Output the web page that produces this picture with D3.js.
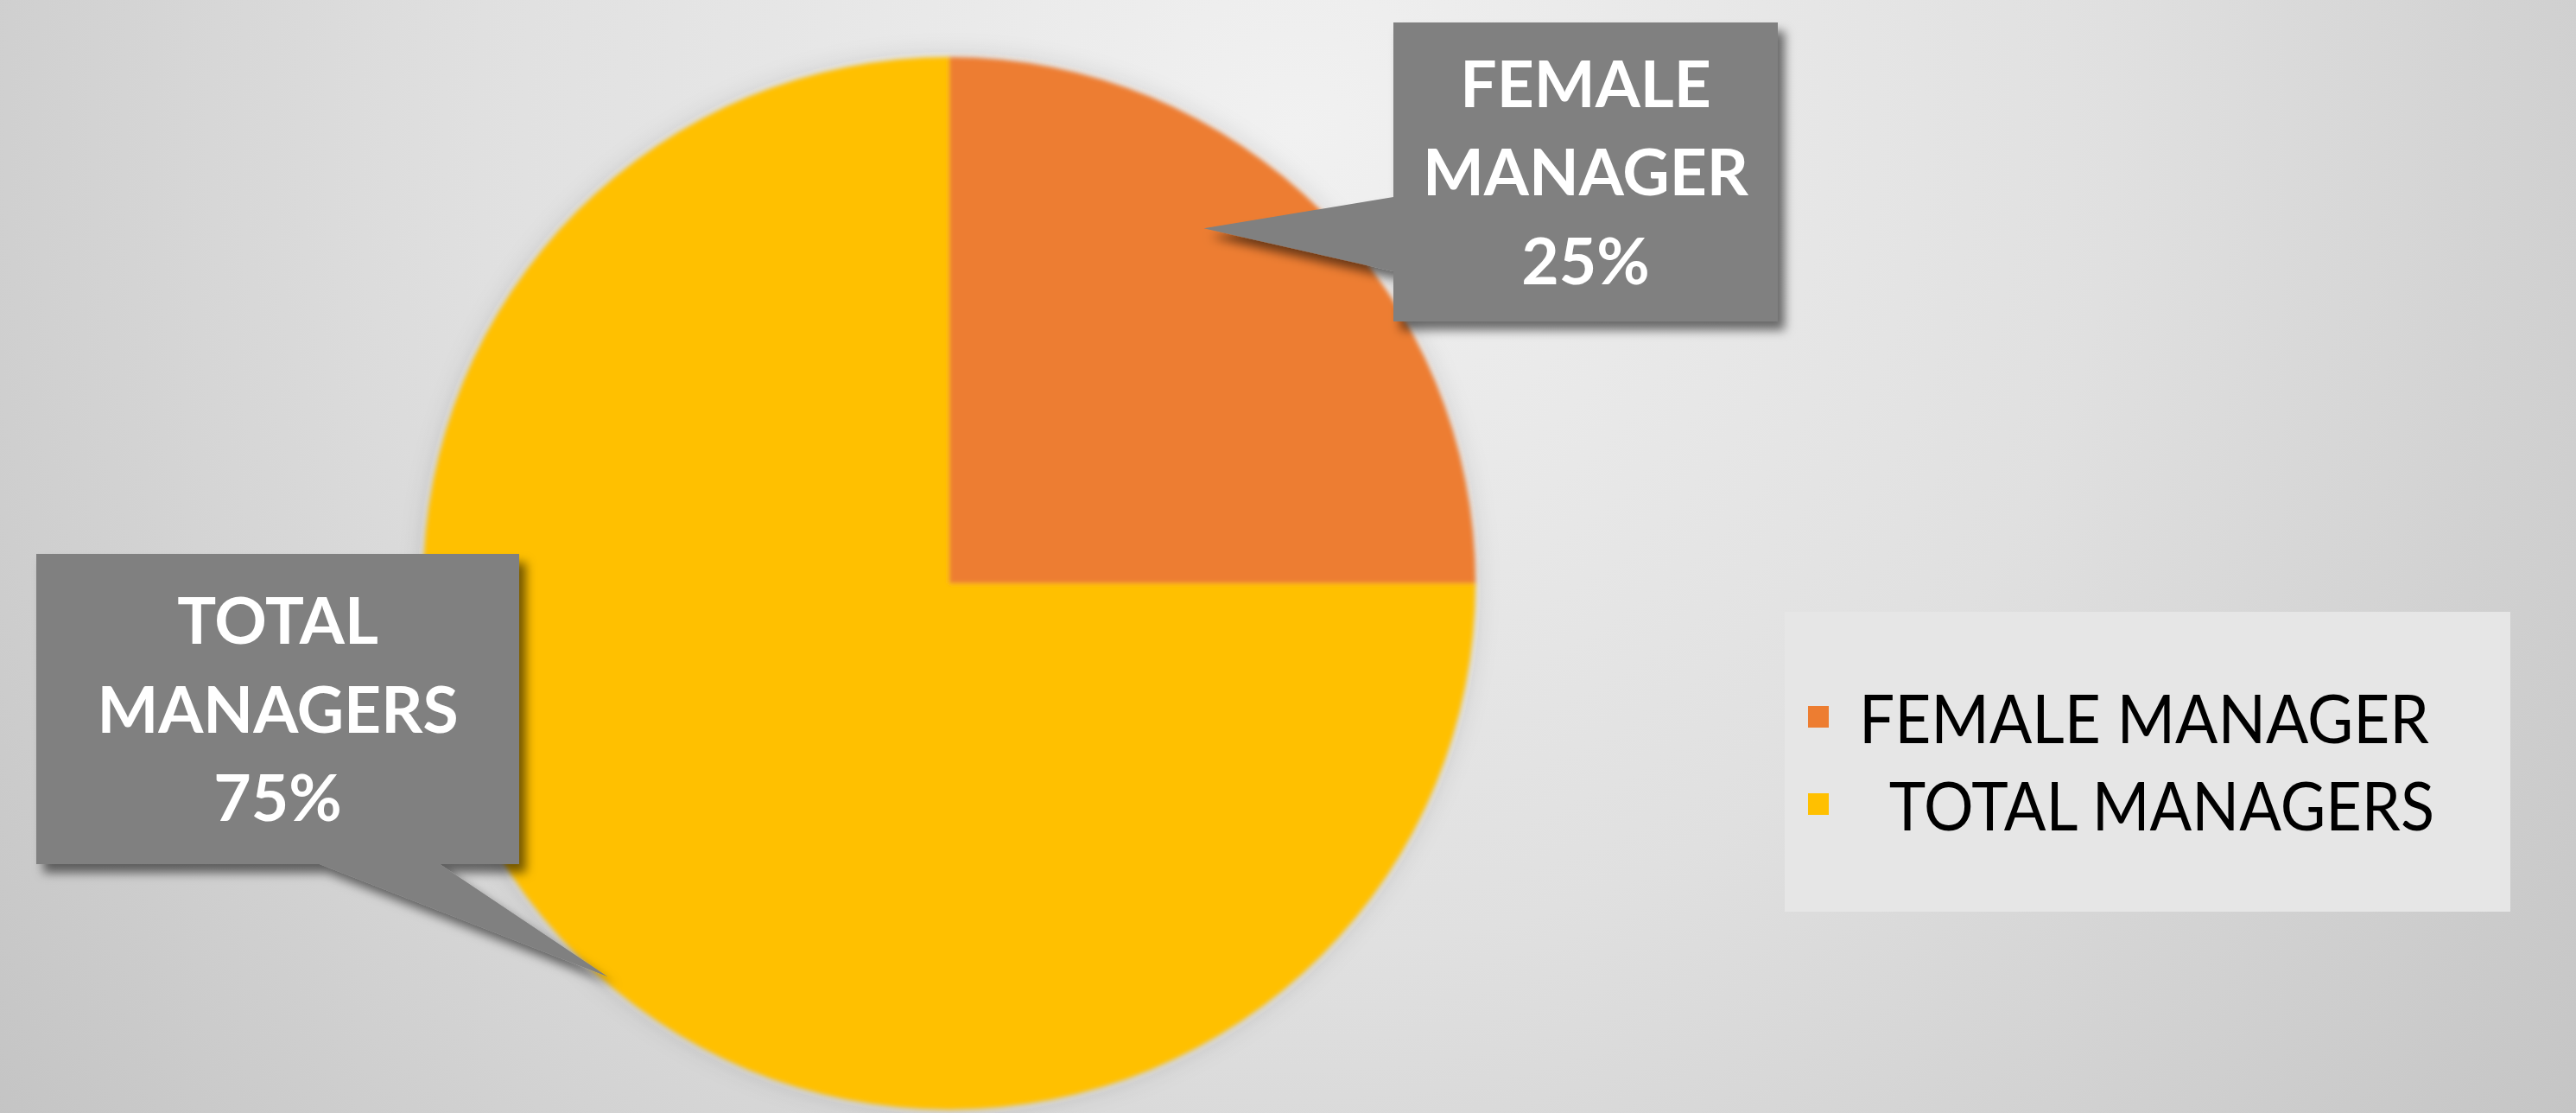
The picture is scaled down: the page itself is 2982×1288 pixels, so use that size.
<!DOCTYPE html>
<html>
<head>
    <meta charset="utf-8">
    <title>Female managers</title>
    <script src="https://d3js.org/d3.v7.min.js"></script>
    <style>
        html, body { margin: 0; padding: 0; overflow: hidden; }
        .callout-text { font-family: Lato, "Open Sans", sans-serif; font-weight: bold; fill: #fff; }
        .legend-text { font-family: Lato, "Open Sans", sans-serif; fill: #000; white-space: pre; }
    </style>
</head>
<body>
    <div id="chart"></div>

    <script>
        // 数据
        const categories = ["FEMALE MANAGER", "TOTAL MANAGERS"];
        const values = [25, 75];
        const colors = ["#ED7D31", "#FFC000"];
        const legendLabels = ["FEMALE MANAGER", "  TOTAL MANAGERS"];

        // 尺寸
        const width = 2982, height = 1288;
        const cx = 1099, cy = 675, radius = 609;

        const svg = d3.select("#chart")
            .append("svg")
            .attr("width", width)
            .attr("height", height);

        const defs = svg.append("defs");

        // 背景渐变
        const bg = defs.append("radialGradient")
            .attr("id", "bg-grad")
            .attr("gradientUnits", "userSpaceOnUse")
            .attr("cx", 1500).attr("cy", 150).attr("r", 1900);
        bg.append("stop").attr("offset", "0%").attr("stop-color", "#f1f1f1");
        bg.append("stop").attr("offset", "50%").attr("stop-color", "#e0e0e0");
        bg.append("stop").attr("offset", "100%").attr("stop-color", "#c4c4c4");

        // 阴影
        const shadow = defs.append("filter").attr("id", "box-shadow")
            .attr("x", "-20%").attr("y", "-20%").attr("width", "140%").attr("height", "140%");
        shadow.append("feDropShadow")
            .attr("dx", 8).attr("dy", 10).attr("stdDeviation", 6)
            .attr("flood-color", "#000").attr("flood-opacity", 0.55);

        const pieGlow = defs.append("filter").attr("id", "pie-glow")
            .attr("x", "-20%").attr("y", "-20%").attr("width", "140%").attr("height", "140%");
        pieGlow.append("feGaussianBlur").attr("in", "SourceGraphic").attr("stdDeviation", 2.5).attr("result", "soft");
        pieGlow.append("feDropShadow").attr("in", "soft")
            .attr("dx", 0).attr("dy", 0).attr("stdDeviation", 14)
            .attr("flood-color", "#000").attr("flood-opacity", 0.15);

        svg.append("rect")
            .attr("width", width)
            .attr("height", height)
            .attr("fill", "url(#bg-grad)");

        // 饼图
        const pie = d3.pie().sort(null).value(d => d.value);
        const arc = d3.arc().innerRadius(0).outerRadius(radius);
        const color = d3.scaleOrdinal().domain(categories).range(colors);

        const data = categories.map((c, i) => ({ name: c, value: values[i] }));
        const arcs = pie(data);
        const total = d3.sum(values);

        svg.append("g")
            .attr("transform", `translate(${cx},${cy})`)
            .attr("filter", "url(#pie-glow)")
            .selectAll("path")
            .data(arcs)
            .enter()
            .append("path")
            .attr("d", arc)
            .attr("fill", d => color(d.data.name));

        // 标注框
        const callouts = [
            { x: 1613, y: 26, w: 445, h: 346, side: "left", b0: 228, b1: 314, tipAngle: 0.622, tipR: 0.83 },
            { x: 42, y: 641, w: 559, h: 359, side: "bottom", b0: 370, b1: 509, tipAngle: 3.856, tipR: 0.99 }
        ];

        const lineGap = 102.5;
        const calloutG = svg.append("g");

        callouts.forEach((c, i) => {
            const tip = d3.pointRadial(c.tipAngle, radius * c.tipR);
            const tx = cx + tip[0], ty = cy + tip[1];
            const p = d3.path();
            const x1 = c.x + c.w, y1 = c.y + c.h;
            if (c.side === "left") {
                p.moveTo(c.x, c.y);
                p.lineTo(x1, c.y);
                p.lineTo(x1, y1);
                p.lineTo(c.x, y1);
                p.lineTo(c.x, c.b1);
                p.lineTo(tx, ty);
                p.lineTo(c.x, c.b0);
            } else {
                p.moveTo(c.x, c.y);
                p.lineTo(x1, c.y);
                p.lineTo(x1, y1);
                p.lineTo(c.b1, y1);
                p.lineTo(tx, ty);
                p.lineTo(c.b0, y1);
                p.lineTo(c.x, y1);
            }
            p.closePath();

            calloutG.append("path")
                .attr("d", p.toString())
                .attr("fill", "#808080")
                .attr("filter", "url(#box-shadow)");

            const lines = categories[i].split(" ").concat([d3.format(".0%")(values[i] / total)]);
            const midY = c.y + c.h / 2;
            const t = calloutG.append("text")
                .attr("class", "callout-text")
                .attr("text-anchor", "middle")
                .attr("font-size", 75);
            lines.forEach((ln, j) => {
                t.append("tspan")
                    .attr("x", c.x + c.w / 2)
                    .attr("y", midY + (j - 1) * lineGap + 27)
                    .text(ln);
            });
        });

        // 图例
        const legend = svg.append("g");
        legend.append("rect")
            .attr("x", 2066).attr("y", 708)
            .attr("width", 840).attr("height", 347)
            .attr("fill", "#e6e6e6");

        const legendY = d3.scalePoint().domain(categories).range([830, 931]);
        const legendWidths = [660, 666];

        legend.selectAll(".legend-swatch")
            .data(categories)
            .enter()
            .append("rect")
            .attr("class", "legend-swatch")
            .attr("x", 2093)
            .attr("y", d => legendY(d) - 13)
            .attr("width", 24)
            .attr("height", 25)
            .attr("fill", d => color(d));

        legend.selectAll(".legend-text")
            .data(categories)
            .enter()
            .append("text")
            .attr("class", "legend-text")
            .attr("x", 2152)
            .attr("y", d => legendY(d) + 30)
            .attr("font-size", 78)
            .attr("textLength", (d, i) => legendWidths[i])
            .attr("lengthAdjust", "spacingAndGlyphs")
            .text((d, i) => legendLabels[i]);
    </script>
</body>
</html>
